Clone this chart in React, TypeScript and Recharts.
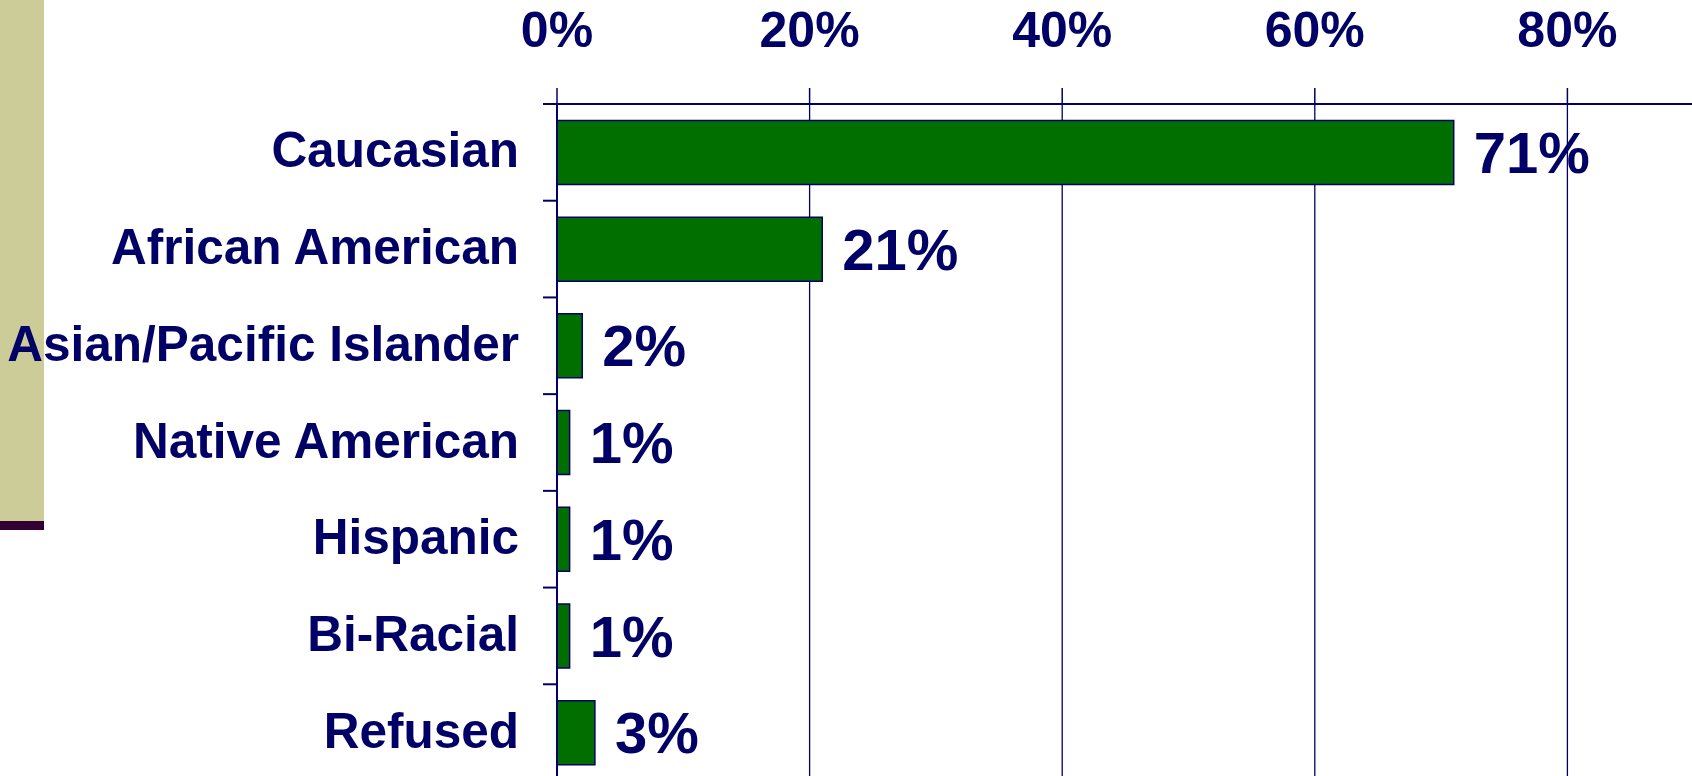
import React from "react";
import { BarChart, Bar, XAxis, YAxis, CartesianGrid, LabelList } from "recharts";

const categories = [
  "Caucasian",
  "African American",
  "Asian/Pacific Islander",
  "Native American",
  "Hispanic",
  "Bi-Racial",
  "Refused",
];
const percents = [71, 21, 2, 1, 1, 1, 3];
const xTicks = [0, 20, 40, 60, 80];

const NAVY = "#000066";
const GREEN = "#006f00";
const FONT = "'Liberation Sans', Arial, sans-serif";

// chart is wider/taller than the page; the frame crops it like the original slide
const CHART_W = 1820;
const CHART_H = 781;
const AXIS_TOP = 104;
const AXIS_LEFT = 557;
const BAND = (CHART_H - AXIS_TOP) / categories.length;

const data = categories.map((name, i) => ({ name, value: percents[i] }));

function CategoryTick(props: any) {
  const { x, y, payload } = props;
  return (
    <g>
      {/* boundary tick above each category, like the original axis */}
      <line x1={x + 24} x2={x + 38} y1={y - BAND / 2} y2={y - BAND / 2} stroke={NAVY} strokeWidth={2} />
      <text x={x} y={y} dy={15} textAnchor="end" fill={NAVY} fontSize={49.5} fontWeight="bold" fontFamily={FONT}>
        {payload.value}
      </text>
    </g>
  );
}

export default function App() {
  return (
    <div
      style={{
        position: "fixed",
        left: 0,
        top: 0,
        width: 1692,
        height: 776,
        overflow: "hidden",
        background: "#ffffff",
      }}
    >
      <div style={{ position: "absolute", left: 0, top: 0, width: 44, height: 521, background: "#cccc99" }} />
      <div style={{ position: "absolute", left: 0, top: 521, width: 44, height: 9, background: "#330033" }} />
      <div style={{ position: "absolute", left: 0, top: 0 }}>
        <BarChart
          width={CHART_W}
          height={CHART_H}
          data={data}
          layout="vertical"
          margin={{ top: 0, right: 0, bottom: 0, left: 0 }}
          barCategoryGap="17%"
        >
          <CartesianGrid vertical horizontal={false} stroke={NAVY} strokeWidth={1.3} />
          <XAxis
            type="number"
            orientation="top"
            domain={[0, 100]}
            ticks={xTicks}
            height={AXIS_TOP}
            tickSize={16}
            tickMargin={41}
            tickFormatter={(v: number) => `${v}%`}
            axisLine={{ stroke: NAVY, strokeWidth: 2 }}
            tickLine={{ stroke: NAVY, strokeWidth: 1.5 }}
            tick={{ fill: NAVY, fontSize: 50, fontWeight: "bold", fontFamily: FONT }}
            interval={0}
          />
          <YAxis
            type="category"
            dataKey="name"
            width={AXIS_LEFT}
            tickSize={14}
            tickMargin={24}
            tickLine={false}
            axisLine={{ stroke: NAVY, strokeWidth: 2 }}
            tick={<CategoryTick />}
            interval={0}
          />
          <Bar dataKey="value" fill={GREEN} stroke={NAVY} strokeWidth={1.5} isAnimationActive={false}>
            <LabelList
              dataKey="value"
              position="right"
              offset={20}
              formatter={(v: any) => `${v}%`}
              fill={NAVY}
              fontSize={58}
              fontWeight="bold"
              fontFamily={FONT}
            />
          </Bar>
        </BarChart>
      </div>
    </div>
  );
}
